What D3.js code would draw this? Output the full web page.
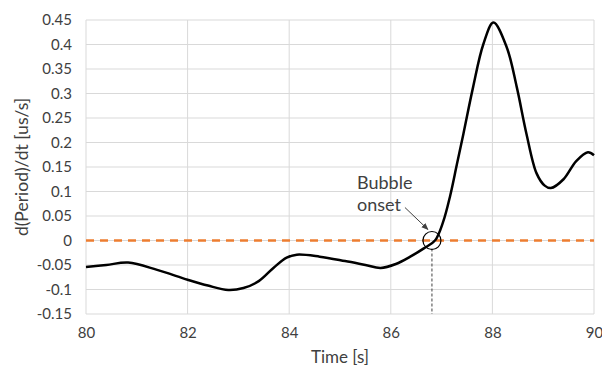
<!DOCTYPE html>
<html>
<head>
<meta charset="utf-8">
<script src="https://cdn.jsdelivr.net/npm/d3@7"></script>
<style>
  body { margin: 0; background: #fff; }
  svg { display: block; }
  text { font-family: Lato, "Open Sans", sans-serif; fill: #404040; }
</style>
</head>
<body>
<svg id="chart" width="602" height="368"></svg>
<script>
// Time samples [s] and rate of change of the period [us/s]
const time = [80, 80.4, 80.83, 81.4, 82, 82.4, 82.8, 83.1, 83.4, 83.7, 83.95, 84.15,
  84.6, 85.1, 85.5, 85.8, 86.1, 86.4, 86.65, 86.87, 87.03, 87.17, 87.3, 87.43, 87.62,
  87.82, 88.02, 88.28, 88.48, 88.67, 88.87, 89.03, 89.15, 89.4, 89.65, 89.88, 90];
const dPeriod = [-0.054, -0.050, -0.045, -0.060, -0.080, -0.092, -0.101, -0.097, -0.083,
  -0.055, -0.035, -0.029, -0.033, -0.042, -0.050, -0.056, -0.048, -0.032, -0.016, 0.0,
  0.038, 0.092, 0.155, 0.218, 0.313, 0.400, 0.445, 0.395, 0.313, 0.218, 0.137, 0.112,
  0.107, 0.125, 0.162, 0.180, 0.174];
const xTicks = [80, 82, 84, 86, 88, 90];
const yTicks = [-0.15, -0.1, -0.05, 0, 0.05, 0.1, 0.15, 0.2, 0.25, 0.3, 0.35, 0.4, 0.45];
const referenceLevel = 0;
const onsetTime = 86.81;
const onsetLabel = ["Bubble", "onset"];

const svg = d3.select("#chart");
const x = d3.scaleLinear().domain([80, 90]).range([86, 594]);
const y = d3.scaleLinear().domain([-0.15, 0.45]).range([314, 20]);

// gridlines
svg.append("g").selectAll("line").data(yTicks).join("line")
  .attr("x1", x(80)).attr("x2", x(90))
  .attr("y1", d => y(d)).attr("y2", d => y(d))
  .attr("stroke", "#d9d9d9").attr("stroke-width", 1);
svg.append("g").selectAll("line").data(xTicks).join("line")
  .attr("x1", d => x(d)).attr("x2", d => x(d))
  .attr("y1", y(-0.15)).attr("y2", y(0.45))
  .attr("stroke", "#d9d9d9").attr("stroke-width", 1);

// axes (labels only, lines drawn by the grid)
const yAxis = svg.append("g").attr("transform", `translate(${x(80)},0)`)
  .call(d3.axisLeft(y).tickValues(yTicks).tickSize(0).tickPadding(14)
    .tickFormat(d => String(+d.toFixed(2))));
const xAxis = svg.append("g").attr("transform", `translate(0,${y(-0.15)})`)
  .call(d3.axisBottom(x).tickValues(xTicks).tickSize(0).tickPadding(13));
[yAxis, xAxis].forEach(a => {
  a.select(".domain").remove();
  a.selectAll("text").attr("font-size", 15).style("fill", "#404040")
    .style("font-family", "Lato, 'Open Sans', sans-serif");
});

// zero reference line
svg.append("line")
  .attr("x1", x(80)).attr("x2", x(90))
  .attr("y1", y(referenceLevel)).attr("y2", y(referenceLevel))
  .attr("stroke", "#ed7d31").attr("stroke-width", 2.5)
  .attr("stroke-dasharray", "8,6");

// onset marker line
svg.append("line")
  .attr("x1", x(onsetTime)).attr("x2", x(onsetTime))
  .attr("y1", y(referenceLevel) + 8).attr("y2", y(-0.15))
  .attr("stroke", "#404040").attr("stroke-width", 1)
  .attr("stroke-dasharray", "3,2");

// data curve
const line = d3.line().x((d, i) => x(time[i])).y(d => y(d)).curve(d3.curveCatmullRom.alpha(0.5));
svg.append("path").datum(dPeriod)
  .attr("d", line)
  .attr("fill", "none").attr("stroke", "#000").attr("stroke-width", 2.5)
  .attr("stroke-linejoin", "round");

// onset circle
svg.append("circle")
  .attr("cx", x(onsetTime)).attr("cy", y(referenceLevel))
  .attr("r", 9).attr("fill", "none").attr("stroke", "#000").attr("stroke-width", 1.2);

// arrow
svg.append("defs").append("marker")
  .attr("id", "arrow").attr("viewBox", "0 0 10 10").attr("refX", 9).attr("refY", 5)
  .attr("markerWidth", 7).attr("markerHeight", 7).attr("orient", "auto")
  .append("path").attr("d", "M0,1 L10,5 L0,9 Z").attr("fill", "#404040");
svg.append("line")
  .attr("x1", x(onsetTime) - 27).attr("y1", y(referenceLevel) - 33)
  .attr("x2", x(onsetTime) - 4).attr("y2", y(referenceLevel) - 11)
  .attr("stroke", "#404040").attr("stroke-width", 1)
  .attr("marker-end", "url(#arrow)");

// annotation text
svg.append("text")
  .attr("x", 357).attr("y", 189)
  .attr("font-size", 18)
  .selectAll("tspan").data(onsetLabel).join("tspan")
  .attr("x", 357).attr("dy", (d, i) => i === 0 ? 0 : 22)
  .text(d => d);

// axis titles
svg.append("text")
  .attr("transform", `translate(28,${y(0.15)}) rotate(-90)`)
  .attr("text-anchor", "middle").attr("font-size", 17.5)
  .text("d(Period)/dt [us/s]");
svg.append("text")
  .attr("x", x(85)).attr("y", 363)
  .attr("text-anchor", "middle").attr("font-size", 17)
  .text("Time [s]");
</script>
</body>
</html>
